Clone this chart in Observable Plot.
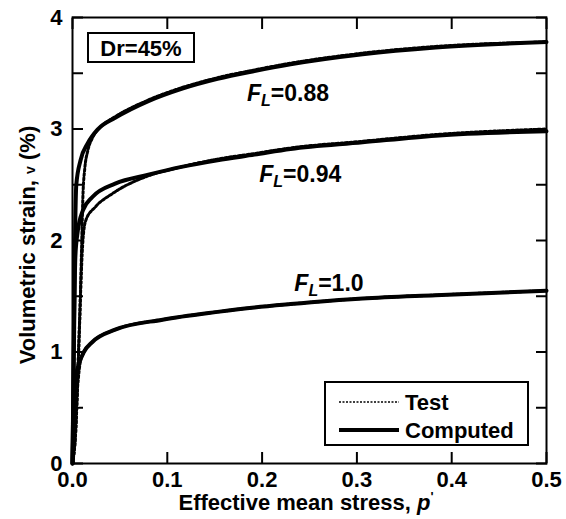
<!DOCTYPE html>
<html><head><meta charset="utf-8">
<script src="https://cdn.jsdelivr.net/npm/d3@7"></script>
<script src="https://cdn.jsdelivr.net/npm/@observablehq/plot@0.6"></script>
<style>body{margin:0;background:#fff} svg{display:block}</style>
</head><body><div id="chart"></div>
<script>
// ---- data ----
const seriesNames = ["0.88", "0.94", "1.0"];

const comp088P = [0, 0.001, 0.002, 0.003, 0.004, 0.0085, 0.016, 0.027, 0.045, 0.08, 0.115, 0.153, 0.192, 0.23, 0.306, 0.383, 0.5];
const comp088E = [0, 0.8, 1.6, 2.2, 2.5, 2.72, 2.87, 3.0, 3.1, 3.25, 3.36, 3.45, 3.52, 3.58, 3.67, 3.73, 3.78];
const comp094P = [0, 0.001, 0.002, 0.003, 0.005, 0.011, 0.021, 0.045, 0.08, 0.115, 0.153, 0.192, 0.23, 0.306, 0.383, 0.5];
const comp094E = [0, 0.7, 1.4, 1.85, 2.05, 2.27, 2.39, 2.51, 2.59, 2.66, 2.72, 2.77, 2.82, 2.88, 2.94, 2.98];
const comp10P  = [0, 0.001, 0.002, 0.004, 0.007, 0.012, 0.021, 0.045, 0.095, 0.153, 0.192, 0.23, 0.306, 0.383, 0.5];
const comp10E  = [0, 0.35, 0.6, 0.8, 0.9, 1.0, 1.09, 1.2, 1.29, 1.36, 1.40, 1.43, 1.48, 1.51, 1.55];

const test088P = [0, 0.004, 0.006, 0.008, 0.0095, 0.011, 0.013, 0.016, 0.021, 0.03, 0.045, 0.08, 0.115, 0.153, 0.192, 0.23, 0.306, 0.383, 0.5];
const test088E = [0, 0.4, 0.9, 1.4, 1.9, 2.4, 2.65, 2.8, 2.92, 3.02, 3.11, 3.26, 3.37, 3.46, 3.53, 3.59, 3.68, 3.74, 3.78];
const test094P = [0, 0.004, 0.006, 0.008, 0.0095, 0.011, 0.014, 0.024, 0.042, 0.08, 0.115, 0.153, 0.192, 0.23, 0.306, 0.383, 0.5];
const test094E = [0, 0.4, 0.9, 1.4, 1.75, 2.0, 2.18, 2.30, 2.42, 2.58, 2.66, 2.73, 2.78, 2.83, 2.89, 2.95, 3.0];
const test10P  = [0, 0.003, 0.006, 0.008, 0.011, 0.02, 0.045, 0.095, 0.153, 0.192, 0.23, 0.306, 0.383, 0.5];
const test10E  = [0, 0.4, 0.75, 0.9, 0.98, 1.08, 1.2, 1.29, 1.36, 1.40, 1.43, 1.48, 1.51, 1.55];

const labelP = [0.184, 0.197, 0.234];
const labelE = [3.32, 2.59, 1.61];

const xTicks = [0, 0.1, 0.2, 0.3, 0.4, 0.5];
const yLabelTicks = [0, 1, 2, 3, 4];
const yTickMarks = [0, 0.5, 1, 1.5, 2, 2.5, 3, 3.5, 4];

// ---- tables ----
function rows(name, P, E) { return P.map((p, i) => ({fl: name, p, e: E[i]})); }
const compRows = [...rows("0.88", comp088P, comp088E), ...rows("0.94", comp094P, comp094E), ...rows("1.0", comp10P, comp10E)];
const testRows = [...rows("0.88", test088P, test088E), ...rows("0.94", test094P, test094E), ...rows("1.0", test10P, test10E)];
const labelRows = seriesNames.map((n, i) => ({name: n, p: labelP[i], e: labelE[i]}));

const FONT = "'Liberation Sans', Arial, Helvetica, sans-serif";
const blank = () => "";

const plot = Plot.plot({
  width: 566, height: 519,
  marginLeft: 72, marginRight: 20, marginTop: 17, marginBottom: 56,
  x: {domain: [0, 0.5]},
  y: {domain: [0, 4]},
  style: {fontFamily: FONT, fontSize: "22px", fontWeight: "bold", color: "#000", background: "#fff"},
  marks: [
    Plot.line(testRows, {x: "p", y: "e", z: "fl", stroke: "#000", strokeWidth: 3, strokeDasharray: "2.5,2", curve: "monotone-x"}),
    Plot.line(compRows, {x: "p", y: "e", z: "fl", stroke: "#000", strokeWidth: 4, curve: "monotone-x"}),
    Plot.frame({stroke: "#000", strokeWidth: 2}),
    Plot.axisX({anchor: "bottom", ticks: xTicks, tickSize: -11, tickFormat: blank, strokeWidth: 2, label: null}),
    Plot.axisX({anchor: "top", ticks: xTicks, tickSize: -11, tickFormat: blank, strokeWidth: 2, label: null}),
    Plot.axisY({anchor: "left", ticks: yTickMarks, tickSize: -11, tickFormat: blank, strokeWidth: 2, label: null}),
    Plot.axisY({anchor: "right", ticks: yTickMarks, tickSize: -11, tickFormat: blank, strokeWidth: 2, label: null}),
    Plot.axisX({anchor: "bottom", ticks: xTicks, tickSize: 0, tickPadding: 8, tickFormat: d3.format(".1f"), label: null, fontSize: 22}),
    Plot.axisY({anchor: "left", ticks: yLabelTicks, tickSize: 0, tickPadding: 10, tickFormat: d3.format("d"), label: null, fontSize: 22}),
    Plot.text(labelRows, {x: "p", y: "e", text: d => "FL=" + d.name, textAnchor: "start", fontSize: 23, fill: "#000"})
  ]
});
document.getElementById("chart").append(plot);

const svg = d3.select(plot);
// F_L labels with subscript
svg.selectAll("text").filter(function() { return /^FL=/.test(this.textContent); }).each(function() {
  const t = d3.select(this);
  const val = this.textContent.slice(3);
  t.text(null);
  t.append("tspan").attr("font-style", "italic").text("F");
  t.append("tspan").attr("font-style", "italic").attr("font-size", "16px").attr("dy", "5").text("L");
  t.append("tspan").attr("dy", "-5").text("=" + val);
});

const g = svg.append("g").attr("font-family", FONT).attr("font-weight", "bold").attr("fill", "#000").attr("text-anchor", "start");
// axis titles
const yl = g.append("text").attr("transform", "translate(27,245) rotate(-90)").attr("text-anchor", "middle")
  .attr("dy", "0.35em").attr("font-size", "22px");
yl.append("tspan").text("Volumetric strain, ");
yl.append("tspan").attr("font-size", "14px").text("v");
yl.append("tspan").text(" (%)");
const xl = g.append("text").attr("x", 306).attr("y", 510).attr("text-anchor", "middle").attr("font-size", "22px");
xl.append("tspan").text("Effective mean stress, ");
xl.append("tspan").attr("font-style", "italic").text("p");
xl.append("tspan").attr("font-size", "13px").attr("dy", "-9").text("'");

// Dr annotation box
g.append("rect").attr("x", 88).attr("y", 33).attr("width", 106).attr("height", 29)
  .attr("fill", "#fff").attr("stroke", "#000").attr("stroke-width", 2);
g.append("text").attr("x", 141).attr("y", 48).attr("dy", "0.35em").attr("text-anchor", "middle")
  .attr("font-size", "22px").text("Dr=45%");

// legend
g.append("rect").attr("x", 325).attr("y", 382).attr("width", 203).attr("height", 63)
  .attr("fill", "#fff").attr("stroke", "#000").attr("stroke-width", 2);
g.append("line").attr("x1", 339).attr("x2", 399).attr("y1", 402).attr("y2", 402)
  .attr("stroke", "#000").attr("stroke-width", 1.5).attr("stroke-dasharray", "2,1.5");
g.append("line").attr("x1", 339).attr("x2", 399).attr("y1", 430).attr("y2", 430)
  .attr("stroke", "#000").attr("stroke-width", 4);
g.append("text").attr("x", 405).attr("y", 402).attr("dy", "0.35em").attr("font-size", "22px").text("Test");
g.append("text").attr("x", 405).attr("y", 430).attr("dy", "0.35em").attr("font-size", "22px").text("Computed");
</script>
</body></html>
